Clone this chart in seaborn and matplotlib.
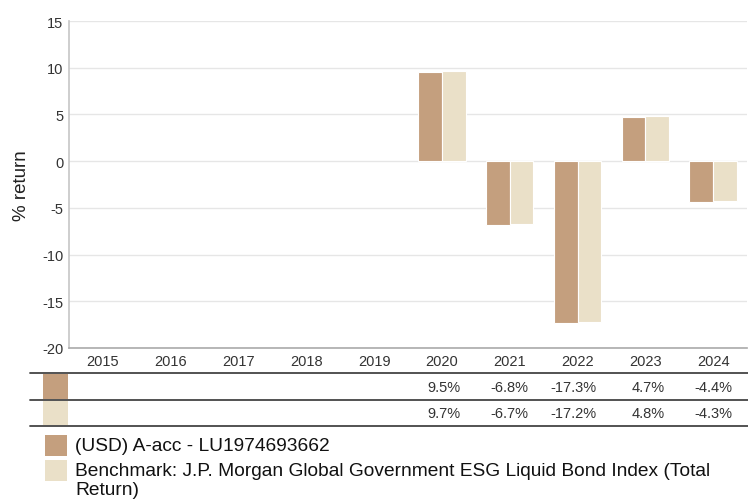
import numpy as np
import pandas as pd
import matplotlib
matplotlib.use("Agg")
import matplotlib.pyplot as plt
import matplotlib.transforms as mtransforms
from matplotlib.patches import Rectangle
import seaborn as sns

years = ["2015", "2016", "2017", "2018", "2019", "2020", "2021", "2022", "2023", "2024"]
fund_label = "(USD) A-acc - LU1974693662"
bench_label = "Benchmark: J.P. Morgan Global Government ESG Liquid Bond Index (Total\nReturn)"
fund = [np.nan, np.nan, np.nan, np.nan, np.nan, 9.5, -6.8, -17.3, 4.7, -4.4]
bench = [np.nan, np.nan, np.nan, np.nan, np.nan, 9.7, -6.7, -17.2, 4.8, -4.3]
colors = ["#C49F7E", "#EAE0C8"]
yticks = [15, 10, 5, 0, -5, -10, -15, -20]

sns.set_theme(style="white")
plt.rcParams["font.family"] = ["Liberation Sans", "DejaVu Sans"]

df = pd.DataFrame({
    "year": years * 2,
    "value": fund + bench,
    "series": ["fund"] * len(years) + ["bench"] * len(years),
})

W, H = 748, 502
fig = plt.figure(figsize=(W / 100, H / 100), dpi=100)
ax = fig.add_axes([69 / W, 1 - 349 / H, (747 - 69) / W, (349 - 22) / H])

sns.barplot(data=df, x="year", y="value", hue="series", order=years,
            hue_order=["fund", "bench"], palette=colors, saturation=1, width=0.7,
            edgecolor="white", linewidth=0.8, legend=False, ax=ax, zorder=3)

ax.set_ylim(-20, 15)
ax.set_yticks(yticks)
ax.set_yticklabels([str(t) for t in yticks], fontsize=10.5, color="#333333")
ax.set_xlim(-0.5, len(years) - 0.5)
ax.set_xticks(range(len(years)))
ax.set_xticklabels(years, fontsize=10.5, color="#333333")
ax.tick_params(axis="both", length=0, pad=4)
ax.set_xlabel("")
ax.set_ylabel("% return", fontsize=13.5, color="#222222", labelpad=9)
ax.grid(axis="y", color="#E6E6E6", linewidth=1, zorder=0)
for s in ["top", "right"]:
    ax.spines[s].set_visible(False)
ax.spines["left"].set_color("#C8C8C8")
ax.spines["bottom"].set_color("#AAAAAA")
ax.spines["bottom"].set_linewidth(1.2)

# table below chart
tr = mtransforms.blended_transform_factory(ax.transData, fig.transFigure)
def fy(py):
    return 1 - py / H

for py in [374, 401, 427]:
    fig.add_artist(plt.Line2D([30 / W, 1], [fy(py), fy(py)], color="#444444", linewidth=1.3))

rows = [(fund, colors[0], 375, 400), (bench, colors[1], 402, 426)]
for vals, col, top, bot in rows:
    fig.add_artist(Rectangle((43 / W, fy(bot)), (68 - 43) / W, (bot - top) / H,
                             facecolor=col, edgecolor="none", transform=fig.transFigure))
    for i, v in enumerate(vals):
        if not np.isnan(v):
            ax.text(i + 0.28, fy((top + bot) / 2 + 0.5), f"{v:.1f}%", transform=tr,
                    ha="right", va="center", fontsize=10.5, color="#333333", clip_on=False)

# legend
leg = [(fund_label, colors[0], 436), (bench_label, colors[1], 461)]
for lab, col, top in leg:
    fig.add_artist(Rectangle((45 / W, fy(top + 21)), 22 / W, 21 / H,
                             facecolor=col, edgecolor="none", transform=fig.transFigure))
    fig.text(75 / W, fy(top + 2), lab, ha="left", va="top", fontsize=13.8,
             color="#111111", linespacing=1.15)

fig.savefig("out.png", dpi=100, facecolor="white")
